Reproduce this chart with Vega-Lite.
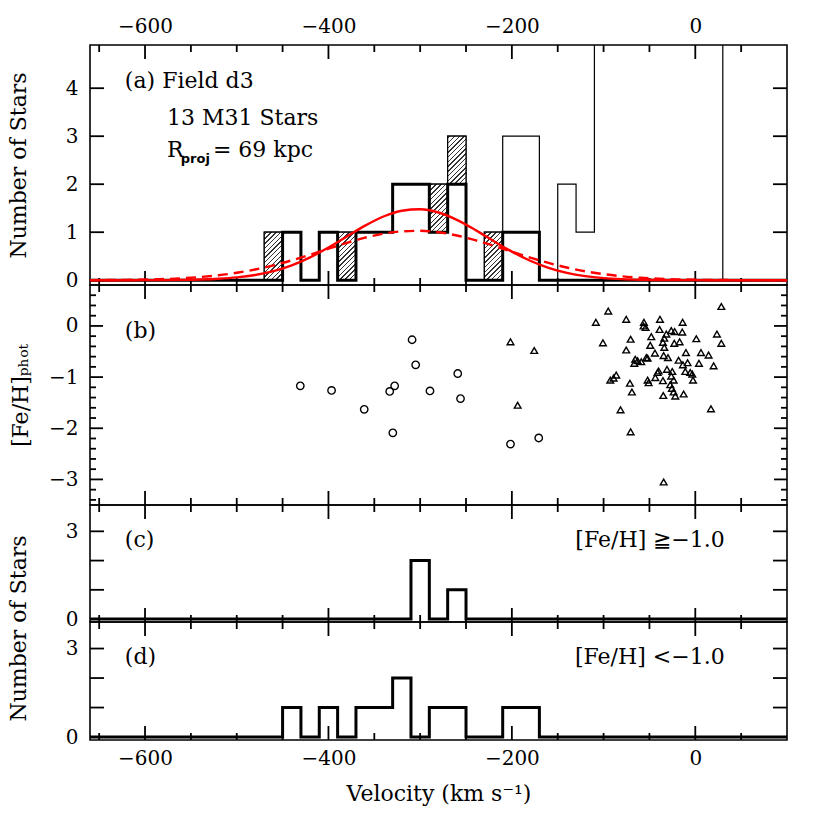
{
  "$schema": "https://vega.github.io/schema/vega-lite/v6.json",
  "background": "white",
  "padding": {"left": 6, "top": 15, "right": 10, "bottom": 5},
  "config": {
    "font": "DejaVu Serif",
    "view": {"stroke": "black", "strokeWidth": 1.6},
    "axis": {"grid": false, "domain": false, "labelFont": "DejaVu Serif", "labelFontSize": 20, "labelColor": "black", "titleFont": "DejaVu Serif", "titleFontSize": 22, "titleFontWeight": "normal", "titleColor": "black", "labelOverlap": false, "labelBound": false, "labelFlush": false}
  },
  "datasets": {
    "xmaj": [{"v": -600}, {"v": -400}, {"v": -200}, {"v": 0}],
    "xmin": [{"v": -650}, {"v": -550}, {"v": -500}, {"v": -450}, {"v": -350}, {"v": -300}, {"v": -250}, {"v": -150}, {"v": -100}, {"v": -50}, {"v": 50}],
    "yA": [{"n": 0}, {"n": 1}, {"n": 2}, {"n": 3}, {"n": 4}],
    "yB": [{"feh": -3}, {"feh": -2}, {"feh": -1}, {"feh": 0}],
    "yBmin": [{"feh": -3.4}, {"feh": -3.2}, {"feh": -2.8}, {"feh": -2.6}, {"feh": -2.4}, {"feh": -2.2}, {"feh": -1.8}, {"feh": -1.6}, {"feh": -1.4}, {"feh": -1.2}, {"feh": -0.8}, {"feh": -0.6}, {"feh": -0.4}, {"feh": -0.2}, {"feh": 0.2}, {"feh": 0.4}, {"feh": 0.6}],
    "yCD": [{"n": 0}, {"n": 1}, {"n": 2}, {"n": 3}],
    "allhist": [
      {"v": -660, "n": 0}, {"v": -470, "n": 1}, {"v": -450, "n": 1}, {"v": -430, "n": 0}, {"v": -410, "n": 1}, {"v": -390, "n": 1}, {"v": -370, "n": 1}, {"v": -350, "n": 1}, {"v": -330, "n": 2}, {"v": -310, "n": 2}, {"v": -290, "n": 2}, {"v": -270, "n": 3}, {"v": -250, "n": 0}, {"v": -230, "n": 1}, {"v": -210, "n": 3}, {"v": -190, "n": 3}, {"v": -170, "n": 0}, {"v": -150, "n": 2}, {"v": -130, "n": 1}, {"v": -110, "n": 6}, {"v": -90, "n": 9}, {"v": -70, "n": 16}, {"v": -50, "n": 18}, {"v": -30, "n": 16}, {"v": -10, "n": 8}, {"v": 10, "n": 6}, {"v": 30, "n": 0}, {"v": 100, "n": 0}
    ],
    "m31hist": [
      {"v": -660, "n": 0}, {"v": -450, "n": 1}, {"v": -430, "n": 0}, {"v": -410, "n": 1}, {"v": -390, "n": 0}, {"v": -370, "n": 1}, {"v": -350, "n": 1}, {"v": -330, "n": 2}, {"v": -310, "n": 2}, {"v": -290, "n": 1}, {"v": -270, "n": 2}, {"v": -250, "n": 0}, {"v": -230, "n": 0}, {"v": -210, "n": 1}, {"v": -190, "n": 1}, {"v": -170, "n": 0}, {"v": 100, "n": 0}
    ],
    "richhist": [
      {"v": -660, "n": 0}, {"v": -310, "n": 2}, {"v": -290, "n": 0}, {"v": -270, "n": 1}, {"v": -250, "n": 0}, {"v": 100, "n": 0}
    ],
    "poorhist": [
      {"v": -660, "n": 0}, {"v": -450, "n": 1}, {"v": -430, "n": 0}, {"v": -410, "n": 1}, {"v": -390, "n": 0}, {"v": -370, "n": 1}, {"v": -350, "n": 1}, {"v": -330, "n": 2}, {"v": -310, "n": 0}, {"v": -290, "n": 1}, {"v": -270, "n": 1}, {"v": -250, "n": 0}, {"v": -230, "n": 0}, {"v": -210, "n": 1}, {"v": -190, "n": 1}, {"v": -170, "n": 0}, {"v": 100, "n": 0}
    ],
    "hatch": [
      {"v0": -470, "v1": -450, "n0": 0, "n1": 1},
      {"v0": -390, "v1": -370, "n0": 0, "n1": 1},
      {"v0": -290, "v1": -270, "n0": 1, "n1": 2},
      {"v0": -270, "v1": -250, "n0": 2, "n1": 3},
      {"v0": -230, "v1": -210, "n0": 0, "n1": 1}
    ],
    "fits": [
      {"v": -660, "solid": 0.0, "dashed": 0.0019}, {"v": -640, "solid": 0.0001, "dashed": 0.0038}, {"v": -620, "solid": 0.0003, "dashed": 0.0072}, {"v": -600, "solid": 0.0009, "dashed": 0.0133}, {"v": -580, "solid": 0.0024, "dashed": 0.0235}, {"v": -560, "solid": 0.0059, "dashed": 0.0399}, {"v": -540, "solid": 0.0135, "dashed": 0.0651}, {"v": -520, "solid": 0.0289, "dashed": 0.102}, {"v": -500, "solid": 0.058, "dashed": 0.154}, {"v": -480, "solid": 0.109, "dashed": 0.223}, {"v": -460, "solid": 0.19, "dashed": 0.31}, {"v": -440, "solid": 0.311, "dashed": 0.414}, {"v": -420, "solid": 0.476, "dashed": 0.532}, {"v": -400, "solid": 0.68, "dashed": 0.656}, {"v": -380, "solid": 0.909, "dashed": 0.778}, {"v": -360, "solid": 1.136, "dashed": 0.886}, {"v": -340, "solid": 1.327, "dashed": 0.969}, {"v": -320, "solid": 1.448, "dashed": 1.018}, {"v": -300, "solid": 1.478, "dashed": 1.029}, {"v": -280, "solid": 1.41, "dashed": 0.998}, {"v": -260, "solid": 1.257, "dashed": 0.931}, {"v": -240, "solid": 1.048, "dashed": 0.834}, {"v": -220, "solid": 0.816, "dashed": 0.718}, {"v": -200, "solid": 0.595, "dashed": 0.594}, {"v": -180, "solid": 0.405, "dashed": 0.472}, {"v": -160, "solid": 0.258, "dashed": 0.36}, {"v": -140, "solid": 0.153, "dashed": 0.264}, {"v": -120, "solid": 0.085, "dashed": 0.186}, {"v": -100, "solid": 0.044, "dashed": 0.126}, {"v": -80, "solid": 0.0215, "dashed": 0.082}, {"v": -60, "solid": 0.0098, "dashed": 0.051}, {"v": -40, "solid": 0.0041, "dashed": 0.031}, {"v": -20, "solid": 0.0016, "dashed": 0.018}, {"v": 0, "solid": 0.0006, "dashed": 0.0098}, {"v": 20, "solid": 0.0002, "dashed": 0.0053}, {"v": 40, "solid": 0.0001, "dashed": 0.0027}, {"v": 60, "solid": 0.0, "dashed": 0.0013}, {"v": 80, "solid": 0.0, "dashed": 0.0006}, {"v": 100, "solid": 0.0, "dashed": 0.0003}
    ],
    "m31pts": [
      {"v": -430.7, "feh": -1.17}, {"v": -396.6, "feh": -1.26}, {"v": -361, "feh": -1.63}, {"v": -333.2, "feh": -1.28}, {"v": -327.8, "feh": -1.17}, {"v": -329.8, "feh": -2.09}, {"v": -308.8, "feh": -0.27}, {"v": -304.9, "feh": -0.76}, {"v": -289.3, "feh": -1.27}, {"v": -259, "feh": -0.93}, {"v": -256, "feh": -1.42}, {"v": -201.5, "feh": -2.31}, {"v": -170.7, "feh": -2.19}
    ],
    "otherpts": [
      {"v": -201.5, "feh": -0.31}, {"v": -175.6, "feh": -0.48}, {"v": -193.7, "feh": -1.55},
      {"v": -108.4, "feh": 0.07}, {"v": -94.9, "feh": 0.29}, {"v": -100.7, "feh": -0.33}, {"v": -75.3, "feh": 0.13}, {"v": -56, "feh": 0.07}, {"v": -56.4, "feh": 0.0}, {"v": -54.2, "feh": -0.03}, {"v": -38.5, "feh": 0.13}, {"v": -13.8, "feh": 0.07}, {"v": 28.4, "feh": 0.38},
      {"v": -38.9, "feh": -0.07}, {"v": -31.6, "feh": -0.16}, {"v": -26.2, "feh": -0.09}, {"v": -22.5, "feh": -0.11}, {"v": -14.2, "feh": -0.12}, {"v": -48, "feh": -0.21}, {"v": -70.5, "feh": -0.26}, {"v": -35.3, "feh": -0.32}, {"v": -33.8, "feh": -0.24}, {"v": -22.9, "feh": -0.34}, {"v": -17.1, "feh": -0.31}, {"v": 1.1, "feh": -0.25}, {"v": 23.6, "feh": -0.16}, {"v": 28.4, "feh": -0.34},
      {"v": -49.1, "feh": -0.38}, {"v": -33.8, "feh": -0.42}, {"v": -75.3, "feh": -0.47}, {"v": -44, "feh": -0.53}, {"v": -34.5, "feh": -0.58}, {"v": -29.8, "feh": -0.62}, {"v": -10.2, "feh": -0.52}, {"v": 6.2, "feh": -0.52}, {"v": 14.5, "feh": -0.57},
      {"v": -65.5, "feh": -0.65}, {"v": -62.9, "feh": -0.68}, {"v": -66.5, "feh": -0.73}, {"v": -58.9, "feh": -0.7}, {"v": -53.5, "feh": -0.62}, {"v": -52, "feh": -0.63}, {"v": -18.2, "feh": -0.67}, {"v": -13.5, "feh": -0.76}, {"v": -8.4, "feh": -0.72}, {"v": -10.9, "feh": -0.89}, {"v": 4, "feh": -0.73}, {"v": 20, "feh": -0.78},
      {"v": -30.9, "feh": -0.85}, {"v": -40, "feh": -0.88}, {"v": -41.1, "feh": -0.91}, {"v": -25.1, "feh": -0.89}, {"v": -26.2, "feh": -0.98}, {"v": -5.5, "feh": -0.91}, {"v": -3.3, "feh": -0.94}, {"v": -2.5, "feh": -1.06}, {"v": -23.6, "feh": -1.06}, {"v": -43.6, "feh": -1.01}, {"v": -35.3, "feh": -1.07}, {"v": -52, "feh": -1.06}, {"v": -50.9, "feh": -1.11},
      {"v": -86.2, "feh": -0.96}, {"v": -89.1, "feh": -1.02}, {"v": -92.7, "feh": -1.06}, {"v": -71.3, "feh": -1.12}, {"v": -69.1, "feh": -1.29}, {"v": -27.3, "feh": -1.15}, {"v": -25.5, "feh": -1.22}, {"v": -23.6, "feh": -1.29}, {"v": -21.8, "feh": -1.37}, {"v": -34.9, "feh": -1.36}, {"v": -12.7, "feh": -1.33},
      {"v": -81.5, "feh": -1.64}, {"v": 17.1, "feh": -1.62}, {"v": -70.5, "feh": -2.07}, {"v": -34.5, "feh": -3.05}
    ],
    "textA": [
      {"v": -622, "n": 4.14, "t": "(a) Field d3"},
      {"v": -576, "n": 3.38, "t": "13 M31 Stars"},
      {"v": -576, "n": 2.71, "t": "R"},
      {"v": -526, "n": 2.71, "t": "= 69 kpc"}
    ],
    "subA": [{"v": -561, "n": 2.52, "t": "proj"}],
    "textB": [{"v": -622, "feh": -0.1, "t": "(b)"}],
    "textC": [{"v": -622, "n": 2.71, "t": "(c)"}],
    "labelC": [{"v": 32, "n": 2.71, "t": "[Fe/H] ≧−1.0"}],
    "textD": [{"v": -622, "n": 2.7, "t": "(d)"}],
    "labelD": [{"v": 32, "n": 2.7, "t": "[Fe/H] <−1.0"}]
  },
  "spacing": 0,
  "bounds": "flush",
  "vconcat": [
    {
      "width": 697, "height": 240,
      "layer": [
        {
          "data": {"name": "allhist"},
          "mark": {"type": "line", "interpolate": "step-after", "color": "black", "strokeWidth": 1.2, "clip": true},
          "encoding": {
            "x": {"field": "v", "type": "quantitative", "scale": {"domain": [-660, 100], "nice": false, "zero": false},
                  "axis": {"orient": "top", "values": [-600, -400, -200, 0], "format": "d", "labelPadding": 9, "ticks": false, "grid": false, "title": null}},
            "y": {"field": "n", "type": "quantitative", "scale": {"domain": [-0.1, 4.9], "nice": false, "zero": false},
                  "axis": {"orient": "left", "values": [0, 1, 2, 3, 4], "labelPadding": 12, "ticks": false, "grid": false, "format": "d", "title": "Number of Stars", "titleX": -72, "titleBaseline": "middle", "titleAngle": -90}}
          }
        },
        {"data": {"name": "xmaj"}, "mark": {"type": "tick", "orient": "vertical", "size": 28, "clip": true, "color": "black", "thickness": 1.8, "opacity": 1},
         "encoding": {"x": {"field": "v", "type": "quantitative"}, "y": {"datum": 4.9, "type": "quantitative"}}},
        {"data": {"name": "xmaj"}, "mark": {"type": "tick", "orient": "vertical", "size": 28, "clip": true, "color": "black", "thickness": 1.8, "opacity": 1},
         "encoding": {"x": {"field": "v", "type": "quantitative"}, "y": {"datum": -0.1, "type": "quantitative"}}},
        {"data": {"name": "xmin"}, "mark": {"type": "tick", "orient": "vertical", "size": 14, "clip": true, "color": "black", "thickness": 1.8, "opacity": 1},
         "encoding": {"x": {"field": "v", "type": "quantitative"}, "y": {"datum": 4.9, "type": "quantitative"}}},
        {"data": {"name": "xmin"}, "mark": {"type": "tick", "orient": "vertical", "size": 14, "clip": true, "color": "black", "thickness": 1.8, "opacity": 1},
         "encoding": {"x": {"field": "v", "type": "quantitative"}, "y": {"datum": -0.1, "type": "quantitative"}}},
        {"data": {"name": "yA"}, "mark": {"type": "tick", "orient": "horizontal", "size": 28, "clip": true, "color": "black", "thickness": 1.8, "opacity": 1},
         "encoding": {"y": {"field": "n", "type": "quantitative"}, "x": {"datum": -660, "type": "quantitative"}}},
        {"data": {"name": "yA"}, "mark": {"type": "tick", "orient": "horizontal", "size": 28, "clip": true, "color": "black", "thickness": 1.8, "opacity": 1},
         "encoding": {"y": {"field": "n", "type": "quantitative"}, "x": {"datum": 100, "type": "quantitative"}}},
        {
          "data": {"name": "hatch"},
          "mark": {"type": "rect", "stroke": "black", "strokeWidth": 1.2,
                   "fill": {"gradient": "linear", "x1": 0, "y1": 0, "x2": 0.461, "y2": 1.206, "stops": [
                     {"offset": 0, "color": "#ffffff"},
                     {"offset": 0.025, "color": "#ffffff"}, {"offset": 0.025, "color": "#333333"}, {"offset": 0.0464, "color": "#333333"}, {"offset": 0.0464, "color": "#ffffff"},
                     {"offset": 0.0964, "color": "#ffffff"}, {"offset": 0.0964, "color": "#333333"}, {"offset": 0.1179, "color": "#333333"}, {"offset": 0.1179, "color": "#ffffff"},
                     {"offset": 0.1679, "color": "#ffffff"}, {"offset": 0.1679, "color": "#333333"}, {"offset": 0.1893, "color": "#333333"}, {"offset": 0.1893, "color": "#ffffff"},
                     {"offset": 0.2393, "color": "#ffffff"}, {"offset": 0.2393, "color": "#333333"}, {"offset": 0.2607, "color": "#333333"}, {"offset": 0.2607, "color": "#ffffff"},
                     {"offset": 0.3107, "color": "#ffffff"}, {"offset": 0.3107, "color": "#333333"}, {"offset": 0.3321, "color": "#333333"}, {"offset": 0.3321, "color": "#ffffff"},
                     {"offset": 0.3821, "color": "#ffffff"}, {"offset": 0.3821, "color": "#333333"}, {"offset": 0.4036, "color": "#333333"}, {"offset": 0.4036, "color": "#ffffff"},
                     {"offset": 0.4536, "color": "#ffffff"}, {"offset": 0.4536, "color": "#333333"}, {"offset": 0.475, "color": "#333333"}, {"offset": 0.475, "color": "#ffffff"},
                     {"offset": 0.525, "color": "#ffffff"}, {"offset": 0.525, "color": "#333333"}, {"offset": 0.5464, "color": "#333333"}, {"offset": 0.5464, "color": "#ffffff"},
                     {"offset": 0.5964, "color": "#ffffff"}, {"offset": 0.5964, "color": "#333333"}, {"offset": 0.6179, "color": "#333333"}, {"offset": 0.6179, "color": "#ffffff"},
                     {"offset": 0.6679, "color": "#ffffff"}, {"offset": 0.6679, "color": "#333333"}, {"offset": 0.6893, "color": "#333333"}, {"offset": 0.6893, "color": "#ffffff"},
                     {"offset": 0.7393, "color": "#ffffff"}, {"offset": 0.7393, "color": "#333333"}, {"offset": 0.7607, "color": "#333333"}, {"offset": 0.7607, "color": "#ffffff"},
                     {"offset": 0.8107, "color": "#ffffff"}, {"offset": 0.8107, "color": "#333333"}, {"offset": 0.8321, "color": "#333333"}, {"offset": 0.8321, "color": "#ffffff"},
                     {"offset": 0.8821, "color": "#ffffff"}, {"offset": 0.8821, "color": "#333333"}, {"offset": 0.9036, "color": "#333333"}, {"offset": 0.9036, "color": "#ffffff"},
                     {"offset": 0.9536, "color": "#ffffff"}, {"offset": 0.9536, "color": "#333333"}, {"offset": 0.975, "color": "#333333"}, {"offset": 0.975, "color": "#ffffff"},
                     {"offset": 1, "color": "#ffffff"}
                   ]}},
          "encoding": {
            "x": {"field": "v0", "type": "quantitative"},
            "x2": {"field": "v1"},
            "y": {"field": "n0", "type": "quantitative"},
            "y2": {"field": "n1"}
          }
        },
        {
          "data": {"name": "m31hist"},
          "mark": {"type": "line", "interpolate": "step-after", "color": "black", "strokeWidth": 3},
          "encoding": {"x": {"field": "v", "type": "quantitative"}, "y": {"field": "n", "type": "quantitative"}}
        },
        {
          "data": {"name": "fits"},
          "mark": {"type": "line", "interpolate": "monotone", "color": "#ff0000", "strokeWidth": 2.4},
          "encoding": {"x": {"field": "v", "type": "quantitative"}, "y": {"field": "solid", "type": "quantitative"}}
        },
        {
          "data": {"name": "fits"},
          "mark": {"type": "line", "interpolate": "monotone", "color": "#ff0000", "strokeWidth": 2.4, "strokeDash": [10, 6]},
          "encoding": {"x": {"field": "v", "type": "quantitative"}, "y": {"field": "dashed", "type": "quantitative"}}
        },
        {
          "data": {"name": "textA"},
          "mark": {"type": "text", "align": "left", "baseline": "middle", "fontSize": 22, "font": "DejaVu Serif", "color": "black"},
          "encoding": {"x": {"field": "v", "type": "quantitative"}, "y": {"field": "n", "type": "quantitative"}, "text": {"field": "t"}}
        },
        {
          "data": {"name": "subA"},
          "mark": {"type": "text", "align": "left", "baseline": "middle", "fontSize": 13, "fontWeight": "bold", "font": "DejaVu Sans", "color": "black"},
          "encoding": {"x": {"field": "v", "type": "quantitative"}, "y": {"field": "n", "type": "quantitative"}, "text": {"field": "t"}}
        }
      ]
    },
    {
      "width": 697, "height": 220,
      "layer": [
        {
          "data": {"name": "m31pts"},
          "mark": {"type": "point", "shape": "circle", "filled": false, "color": "black", "size": 55, "strokeWidth": 1.4, "opacity": 1},
          "encoding": {
            "x": {"field": "v", "type": "quantitative", "scale": {"domain": [-660, 100], "nice": false, "zero": false}, "axis": null},
            "y": {"field": "feh", "type": "quantitative", "scale": {"domain": [-3.5, 0.8], "nice": false, "zero": false},
                  "axis": {"orient": "left", "values": [-3, -2, -1, 0], "format": "d", "labelPadding": 12, "ticks": false, "grid": false,
                           "title": "[Fe/H]ₚₕₒₜ", "titleX": -70, "titleBaseline": "middle", "titleAngle": -90}}
          }
        },
        {"data": {"name": "xmaj"}, "mark": {"type": "tick", "orient": "vertical", "size": 28, "clip": true, "color": "black", "thickness": 1.8, "opacity": 1},
         "encoding": {"x": {"field": "v", "type": "quantitative", "axis": null}, "y": {"datum": 0.8, "type": "quantitative"}}},
        {"data": {"name": "xmaj"}, "mark": {"type": "tick", "orient": "vertical", "size": 28, "clip": true, "color": "black", "thickness": 1.8, "opacity": 1},
         "encoding": {"x": {"field": "v", "type": "quantitative", "axis": null}, "y": {"datum": -3.5, "type": "quantitative"}}},
        {"data": {"name": "xmin"}, "mark": {"type": "tick", "orient": "vertical", "size": 14, "clip": true, "color": "black", "thickness": 1.8, "opacity": 1},
         "encoding": {"x": {"field": "v", "type": "quantitative", "axis": null}, "y": {"datum": 0.8, "type": "quantitative"}}},
        {"data": {"name": "xmin"}, "mark": {"type": "tick", "orient": "vertical", "size": 14, "clip": true, "color": "black", "thickness": 1.8, "opacity": 1},
         "encoding": {"x": {"field": "v", "type": "quantitative", "axis": null}, "y": {"datum": -3.5, "type": "quantitative"}}},
        {"data": {"name": "yB"}, "mark": {"type": "tick", "orient": "horizontal", "size": 26, "clip": true, "color": "black", "thickness": 1.8, "opacity": 1},
         "encoding": {"y": {"field": "feh", "type": "quantitative"}, "x": {"datum": -660, "type": "quantitative", "axis": null}}},
        {"data": {"name": "yB"}, "mark": {"type": "tick", "orient": "horizontal", "size": 26, "clip": true, "color": "black", "thickness": 1.8, "opacity": 1},
         "encoding": {"y": {"field": "feh", "type": "quantitative"}, "x": {"datum": 100, "type": "quantitative", "axis": null}}},
        {"data": {"name": "yBmin"}, "mark": {"type": "tick", "orient": "horizontal", "size": 12, "clip": true, "color": "black", "thickness": 1.8, "opacity": 1},
         "encoding": {"y": {"field": "feh", "type": "quantitative"}, "x": {"datum": -660, "type": "quantitative", "axis": null}}},
        {"data": {"name": "yBmin"}, "mark": {"type": "tick", "orient": "horizontal", "size": 12, "clip": true, "color": "black", "thickness": 1.8, "opacity": 1},
         "encoding": {"y": {"field": "feh", "type": "quantitative"}, "x": {"datum": 100, "type": "quantitative", "axis": null}}},
        {
          "data": {"name": "otherpts"},
          "mark": {"type": "point", "shape": "triangle-up", "filled": false, "color": "black", "size": 45, "strokeWidth": 1.4, "opacity": 1},
          "encoding": {"x": {"field": "v", "type": "quantitative", "axis": null}, "y": {"field": "feh", "type": "quantitative"}}
        },
        {
          "data": {"name": "textB"},
          "mark": {"type": "text", "align": "left", "baseline": "middle", "fontSize": 22, "font": "DejaVu Serif", "color": "black"},
          "encoding": {"x": {"field": "v", "type": "quantitative", "axis": null}, "y": {"field": "feh", "type": "quantitative"}, "text": {"field": "t"}}
        }
      ]
    },
    {
      "width": 697, "height": 117,
      "layer": [
        {
          "data": {"name": "richhist"},
          "mark": {"type": "line", "interpolate": "step-after", "color": "black", "strokeWidth": 3},
          "encoding": {
            "x": {"field": "v", "type": "quantitative", "scale": {"domain": [-660, 100], "nice": false, "zero": false}, "axis": null},
            "y": {"field": "n", "type": "quantitative", "scale": {"domain": [-0.1, 3.9], "nice": false, "zero": false},
                  "axis": {"orient": "left", "values": [0, 1, 2, 3], "labelPadding": 12, "ticks": false, "grid": false, "format": "d", "title": null}}
          }
        },
        {"data": {"name": "xmaj"}, "mark": {"type": "tick", "orient": "vertical", "size": 28, "clip": true, "color": "black", "thickness": 1.8, "opacity": 1},
         "encoding": {"x": {"field": "v", "type": "quantitative", "axis": null}, "y": {"datum": 3.9, "type": "quantitative"}}},
        {"data": {"name": "xmaj"}, "mark": {"type": "tick", "orient": "vertical", "size": 28, "clip": true, "color": "black", "thickness": 1.8, "opacity": 1},
         "encoding": {"x": {"field": "v", "type": "quantitative", "axis": null}, "y": {"datum": -0.1, "type": "quantitative"}}},
        {"data": {"name": "xmin"}, "mark": {"type": "tick", "orient": "vertical", "size": 14, "clip": true, "color": "black", "thickness": 1.8, "opacity": 1},
         "encoding": {"x": {"field": "v", "type": "quantitative", "axis": null}, "y": {"datum": 3.9, "type": "quantitative"}}},
        {"data": {"name": "xmin"}, "mark": {"type": "tick", "orient": "vertical", "size": 14, "clip": true, "color": "black", "thickness": 1.8, "opacity": 1},
         "encoding": {"x": {"field": "v", "type": "quantitative", "axis": null}, "y": {"datum": -0.1, "type": "quantitative"}}},
        {"data": {"name": "yCD"}, "mark": {"type": "tick", "orient": "horizontal", "size": 28, "clip": true, "color": "black", "thickness": 1.8, "opacity": 1},
         "encoding": {"y": {"field": "n", "type": "quantitative"}, "x": {"datum": -660, "type": "quantitative", "axis": null}}},
        {"data": {"name": "yCD"}, "mark": {"type": "tick", "orient": "horizontal", "size": 28, "clip": true, "color": "black", "thickness": 1.8, "opacity": 1},
         "encoding": {"y": {"field": "n", "type": "quantitative"}, "x": {"datum": 100, "type": "quantitative", "axis": null}}},
        {
          "data": {"name": "textC"},
          "mark": {"type": "text", "align": "left", "baseline": "middle", "fontSize": 22, "font": "DejaVu Serif", "color": "black"},
          "encoding": {"x": {"field": "v", "type": "quantitative", "axis": null}, "y": {"field": "n", "type": "quantitative"}, "text": {"field": "t"}}
        },
        {
          "data": {"name": "labelC"},
          "mark": {"type": "text", "align": "right", "baseline": "middle", "fontSize": 22, "font": "DejaVu Serif", "color": "black"},
          "encoding": {"x": {"field": "v", "type": "quantitative", "axis": null}, "y": {"field": "n", "type": "quantitative"}, "text": {"field": "t"}}
        }
      ]
    },
    {
      "width": 697, "height": 118,
      "layer": [
        {
          "data": {"name": "poorhist"},
          "mark": {"type": "line", "interpolate": "step-after", "color": "black", "strokeWidth": 3},
          "encoding": {
            "x": {"field": "v", "type": "quantitative", "scale": {"domain": [-660, 100], "nice": false, "zero": false},
                  "axis": {"orient": "bottom", "values": [-600, -400, -200, 0], "format": "d", "labelPadding": 8, "ticks": false, "grid": false,
                           "title": "Velocity (km s⁻¹)", "titleY": 53, "titleBaseline": "middle"}},
            "y": {"field": "n", "type": "quantitative", "scale": {"domain": [-0.1, 3.9], "nice": false, "zero": false},
                  "axis": {"orient": "left", "values": [0, 1, 2, 3], "labelPadding": 12, "ticks": false, "grid": false, "format": "d", "title": "Number of Stars", "titleX": -72, "titleY": 6, "titleBaseline": "middle", "titleAngle": -90}}
          }
        },
        {"data": {"name": "xmaj"}, "mark": {"type": "tick", "orient": "vertical", "size": 28, "clip": true, "color": "black", "thickness": 1.8, "opacity": 1},
         "encoding": {"x": {"field": "v", "type": "quantitative"}, "y": {"datum": 3.9, "type": "quantitative"}}},
        {"data": {"name": "xmaj"}, "mark": {"type": "tick", "orient": "vertical", "size": 28, "clip": true, "color": "black", "thickness": 1.8, "opacity": 1},
         "encoding": {"x": {"field": "v", "type": "quantitative"}, "y": {"datum": -0.1, "type": "quantitative"}}},
        {"data": {"name": "xmin"}, "mark": {"type": "tick", "orient": "vertical", "size": 14, "clip": true, "color": "black", "thickness": 1.8, "opacity": 1},
         "encoding": {"x": {"field": "v", "type": "quantitative"}, "y": {"datum": 3.9, "type": "quantitative"}}},
        {"data": {"name": "xmin"}, "mark": {"type": "tick", "orient": "vertical", "size": 14, "clip": true, "color": "black", "thickness": 1.8, "opacity": 1},
         "encoding": {"x": {"field": "v", "type": "quantitative"}, "y": {"datum": -0.1, "type": "quantitative"}}},
        {"data": {"name": "yCD"}, "mark": {"type": "tick", "orient": "horizontal", "size": 28, "clip": true, "color": "black", "thickness": 1.8, "opacity": 1},
         "encoding": {"y": {"field": "n", "type": "quantitative"}, "x": {"datum": -660, "type": "quantitative"}}},
        {"data": {"name": "yCD"}, "mark": {"type": "tick", "orient": "horizontal", "size": 28, "clip": true, "color": "black", "thickness": 1.8, "opacity": 1},
         "encoding": {"y": {"field": "n", "type": "quantitative"}, "x": {"datum": 100, "type": "quantitative"}}},
        {
          "data": {"name": "textD"},
          "mark": {"type": "text", "align": "left", "baseline": "middle", "fontSize": 22, "font": "DejaVu Serif", "color": "black"},
          "encoding": {"x": {"field": "v", "type": "quantitative"}, "y": {"field": "n", "type": "quantitative"}, "text": {"field": "t"}}
        },
        {
          "data": {"name": "labelD"},
          "mark": {"type": "text", "align": "right", "baseline": "middle", "fontSize": 22, "font": "DejaVu Serif", "color": "black"},
          "encoding": {"x": {"field": "v", "type": "quantitative"}, "y": {"field": "n", "type": "quantitative"}, "text": {"field": "t"}}
        }
      ]
    }
  ]
}
